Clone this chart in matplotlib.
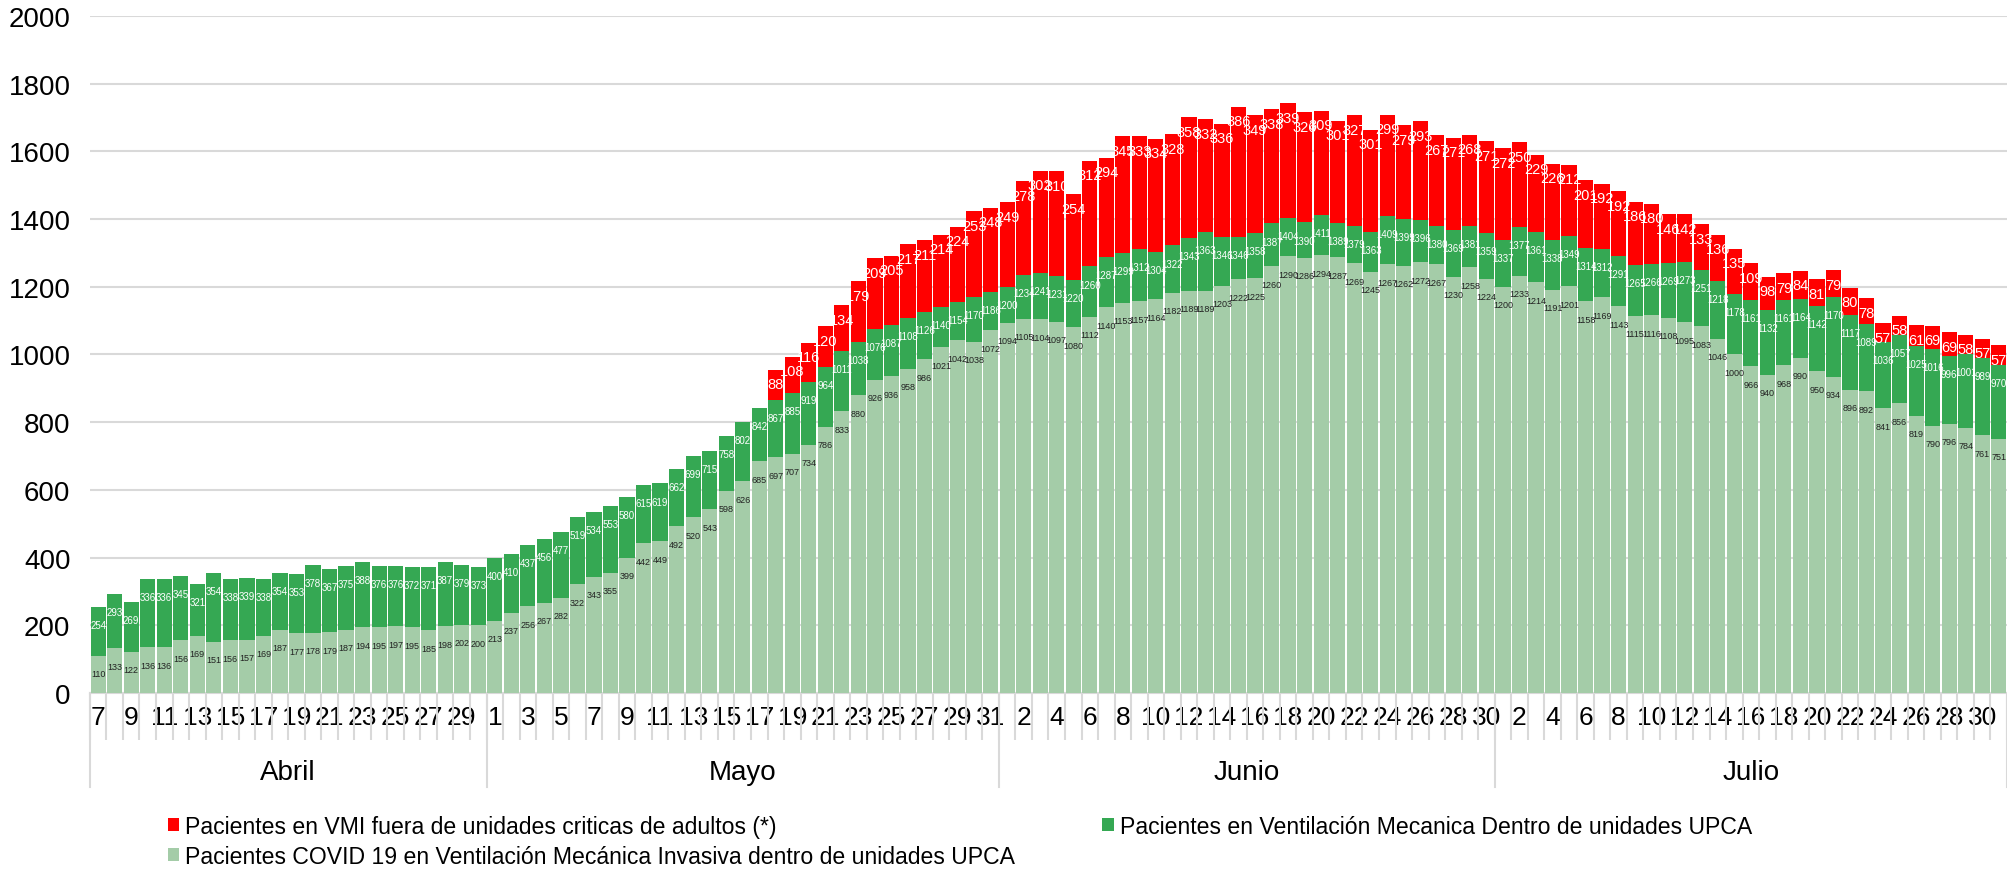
import numpy as np
import matplotlib
matplotlib.use("Agg")
import matplotlib.pyplot as plt
import matplotlib.transforms as mtransforms

plt.rcParams['font.family'] = ['Liberation Sans', 'DejaVu Sans']

# data
months = ['Abril', 'Mayo', 'Junio', 'Julio']
month_days = [list(range(7, 31)), list(range(1, 32)), list(range(1, 31)), list(range(1, 32))]

light_abr = [110, 133, 122, 136, 136, 156, 169, 151, 156, 157, 169, 187, 177, 178, 179, 187, 194, 195, 197, 195, 185, 198, 202, 200]
light_may = [213, 237, 256, 267, 282, 322, 343, 355, 399, 442, 449, 492, 520, 543, 598, 626, 685, 697, 707, 734, 786, 833, 880, 926, 936, 958, 986, 1021, 1042, 1038, 1072]
light_jun = [1094, 1105, 1104, 1097, 1080, 1112, 1140, 1153, 1157, 1164, 1182, 1189, 1189, 1203, 1222, 1225, 1260, 1290, 1286, 1294, 1287, 1269, 1245, 1267, 1262, 1272, 1267, 1230, 1258, 1224]
light_jul = [1200, 1233, 1214, 1191, 1201, 1158, 1169, 1143, 1115, 1116, 1108, 1095, 1083, 1046, 1000, 966, 940, 968, 990, 950, 934, 896, 892, 841, 856, 819, 790, 796, 784, 761, 751]

dark_abr = [254, 293, 269, 336, 336, 345, 321, 354, 338, 339, 338, 354, 353, 378, 367, 375, 388, 376, 376, 372, 371, 387, 379, 373]
dark_may = [400, 410, 437, 456, 477, 519, 534, 553, 580, 615, 619, 662, 699, 715, 758, 802, 842, 867, 885, 919, 964, 1011, 1038, 1076, 1087, 1108, 1126, 1140, 1154, 1170, 1186]
dark_jun = [1200, 1234, 1241, 1231, 1220, 1260, 1287, 1299, 1312, 1304, 1322, 1343, 1363, 1346, 1346, 1358, 1387, 1404, 1390, 1411, 1389, 1379, 1363, 1409, 1399, 1396, 1380, 1369, 1381, 1359]
dark_jul = [1337, 1377, 1361, 1338, 1349, 1314, 1312, 1291, 1265, 1266, 1269, 1273, 1251, 1218, 1178, 1161, 1132, 1161, 1164, 1142, 1170, 1117, 1089, 1036, 1057, 1025, 1016, 996, 1001, 989, 970]

red_abr = [0] * 24
red_may = [0] * 17 + [88, 108, 116, 120, 134, 179, 209, 205, 217, 211, 214, 224, 253, 248]
red_jun = [249, 278, 302, 310, 254, 312, 294, 345, 333, 334, 328, 358, 332, 336, 386, 349, 338, 339, 326, 309, 301, 327, 301, 299, 279, 293, 267, 271, 268, 271]
red_jul = [272, 250, 229, 226, 212, 201, 192, 192, 186, 180, 146, 142, 133, 136, 135, 109, 98, 79, 84, 81, 79, 80, 78, 57, 58, 61, 69, 69, 58, 57, 57]

names = ['Pacientes en VMI fuera de unidades criticas de adultos (*)',
         'Pacientes COVID 19 en Ventilación Mecánica Invasiva dentro de unidades UPCA',
         'Pacientes en Ventilación Mecanica Dentro de unidades UPCA']

light = np.array(light_abr + light_may + light_jun + light_jul)
dark = np.array(dark_abr + dark_may + dark_jun + dark_jul)
red = np.array(red_abr + red_may + red_jun + red_jul)
days = sum(month_days, [])
n = len(days)
x = np.arange(n)

c_red = '#FF0000'
c_dark = '#35A853'
c_light = '#A4CCA8'

fig = plt.figure(figsize=(20.07, 8.7), dpi=100)
ax = fig.add_axes([0.0448, 0.2023, 0.9552, 0.7782])

w = 0.92
b_red = ax.bar(x, red, bottom=dark, width=w, color=c_red, zorder=2)
b_light = ax.bar(x, light, width=w, color=c_light, zorder=3)
b_dark = ax.bar(x, dark, width=w, color=c_dark, zorder=2)

# labels
for i in range(n):
    ax.annotate(str(light[i]), (x[i], light[i]), xytext=(0, -13), textcoords='offset points',
                ha='center', va='center', fontsize=6.5, color='#222222', zorder=5)
    ax.annotate(str(dark[i]), (x[i], dark[i]), xytext=(0, -13), textcoords='offset points',
                ha='center', va='center', fontsize=7, color='white', zorder=5)
    if red[i] > 0:
        ax.annotate(str(red[i]), (x[i], dark[i] + red[i]), xytext=(0, -10.5), textcoords='offset points',
                    ha='center', va='center', fontsize=10.5, color='white', zorder=5)

ax.set_xlim(-0.5, n - 0.5)
ax.set_ylim(0, 2000)
ax.set_yticks(range(0, 2001, 200))
ax.yaxis.grid(True, color='#D9D9D9', linewidth=1.5, zorder=0)
ax.set_axisbelow(True)
ax.tick_params(axis='y', length=0, pad=14, labelsize=20)

for s in ['top', 'right', 'left']:
    ax.spines[s].set_visible(False)
ax.spines['bottom'].set_color('#D9D9D9')
ax.spines['bottom'].set_linewidth(1.5)

ax.set_xticks(x)
ax.set_xticklabels([str(d) if i % 2 == 0 else '' for i, d in enumerate(days)])
ax.tick_params(axis='x', which='major', length=0, pad=9, labelsize=19)
ax.set_xticks(np.arange(n + 1) - 0.5, minor=True)
ax.tick_params(axis='x', which='minor', length=34, width=1.5, color='#D9D9D9')

# month level axis
trans = mtransforms.blended_transform_factory(ax.transData, ax.transAxes)
bounds = np.cumsum([0] + [len(m) for m in month_days]) - 0.5
for b in bounds:
    ax.plot([b, b], [0, -0.139], transform=trans, color='#D9D9D9', linewidth=1.5, clip_on=False)
for k, m in enumerate(months):
    ax.text((bounds[k] + bounds[k + 1]) / 2, -0.117, m, transform=trans,
            ha='center', va='center', fontsize=20)

fig.legend([b_red, b_light, b_dark], names, loc='upper left', bbox_to_anchor=(0.0835, 0.062),
           ncol=2, frameon=False, fontsize=16.6, handlelength=0.5, handleheight=0.5,
           handletextpad=0.25, columnspacing=3.8, labelspacing=0.3, borderpad=0, borderaxespad=0)

fig.savefig('out.png', dpi=100)
